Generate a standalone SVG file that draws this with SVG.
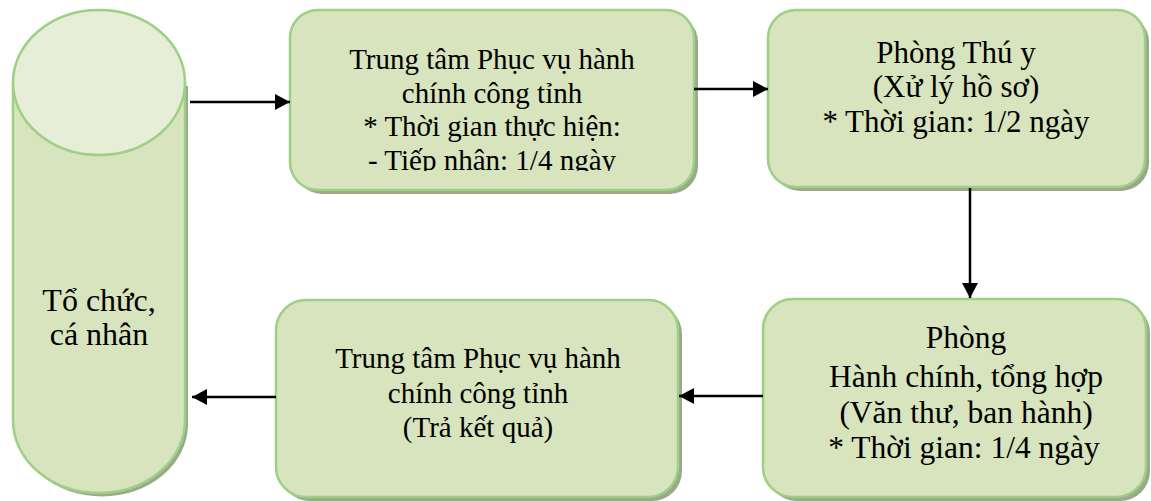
<svg xmlns="http://www.w3.org/2000/svg" width="1151" height="501" viewBox="0 0 1151 501">
<style>
.box{fill:#d7e4bd;stroke:#9dcf84;stroke-width:2.5}
.shadow{fill:#9aa88c}
.t{font-family:"Liberation Serif","Times New Roman",serif;fill:#000;text-anchor:middle}
.conn{stroke:#000;stroke-width:2.5;fill:none;marker-end:url(#arr)}
</style>
<defs>
<marker id="arr" markerWidth="16" markerHeight="16" refX="15" refY="8" orient="auto" markerUnits="userSpaceOnUse">
<path d="M0,0 L15,8 L0,16 Z" fill="#000"/>
</marker>
<clipPath id="clip1"><rect x="290" y="10" width="404" height="161"/></clipPath>
</defs>
<rect width="1151" height="501" fill="#fff"/>

<g id="node-to-chuc">
<path class="shadow" d="M16,86 L16,424 A86,72.5 0 0 0 188,424 L188,86 Z"/>
<path class="box" d="M13,82.5 L13,420.5 A86,72.5 0 0 0 185,420.5 L185,82.5"/>
<ellipse cx="99" cy="82.5" rx="86" ry="72.5" fill="#e6eed8" stroke="#9dcf84" stroke-width="2.5"/>
<text class="t" font-size="32" x="99" y="311">Tổ chức,</text>
<text class="t" font-size="32" x="99" y="345">cá nhân</text>
</g>

<g id="node-trung-tam-1">
<rect class="shadow" x="294" y="14" width="404" height="180" rx="28"/>
<rect class="box" x="290" y="10" width="404" height="180" rx="28"/>
<g clip-path="url(#clip1)">
<text class="t" font-size="29" x="492" y="69">Trung tâm Phục vụ hành</text>
<text class="t" font-size="29" x="492" y="103">chính công tỉnh</text>
<text class="t" font-size="29" x="492" y="136">* Thời gian thực hiện:</text>
<text class="t" font-size="29" x="492" y="170">- Tiếp nhận: 1/4 ngày</text>
</g>
</g>

<g id="node-phong-thu-y">
<rect class="shadow" x="772" y="14" width="377" height="177" rx="28"/>
<rect class="box" x="768" y="10" width="377" height="177" rx="28"/>
<text class="t" font-size="31" x="956" y="63">Phòng Thú y</text>
<text class="t" font-size="31" x="956" y="97">(Xử lý hồ sơ)</text>
<text class="t" font-size="31" x="956" y="132">* Thời gian: 1/2 ngày</text>
</g>

<g id="node-phong-hanh-chinh">
<rect class="shadow" x="767" y="303" width="383" height="198" rx="30"/>
<rect class="box" x="763" y="299" width="383" height="198" rx="30"/>
<text class="t" font-size="31.5" x="966" y="348">Phòng</text>
<text class="t" font-size="31.5" x="966" y="387">Hành chính, tổng hợp</text>
<text class="t" font-size="31.5" x="966" y="423">(Văn thư, ban hành)</text>
<text class="t" font-size="31.5" x="964" y="458">* Thời gian: 1/4 ngày</text>
</g>

<g id="node-trung-tam-2">
<rect class="shadow" x="280" y="304" width="402" height="197" rx="30"/>
<rect class="box" x="276" y="300" width="402" height="197" rx="30"/>
<text class="t" font-size="29" x="478" y="368">Trung tâm Phục vụ hành</text>
<text class="t" font-size="29" x="478" y="403">chính công tỉnh</text>
<text class="t" font-size="29" x="478" y="437">(Trả kết quả)</text>
</g>

<g id="connectors">
<line class="conn" x1="190" y1="102" x2="290" y2="102"/>
<line class="conn" x1="694" y1="89" x2="768" y2="89"/>
<line class="conn" x1="970" y1="188" x2="970" y2="298"/>
<line class="conn" x1="763" y1="396" x2="679" y2="396"/>
<line class="conn" x1="276" y1="397" x2="192" y2="397"/>
</g>
</svg>
